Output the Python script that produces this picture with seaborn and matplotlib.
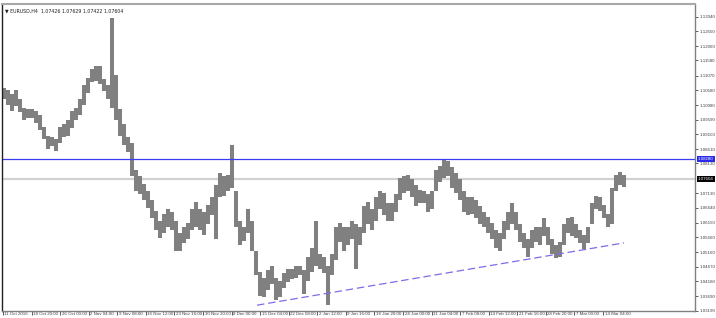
import matplotlib
matplotlib.use("Agg")
import matplotlib.pyplot as plt
import matplotlib.transforms as mtransforms
import seaborn as sns
import numpy as np
import pandas as pd

# ---------------- data ----------------
header_text = "EURUSD,H4  1.07426 1.07629 1.07422 1.07604"

bar_low = [
    1.1030, 1.1010, 1.0990, 1.1005, 1.0985, 1.0960, 1.0965,
    1.0965, 1.0950, 1.0925, 1.0895, 1.0862, 1.0870, 1.0855,
    1.0880, 1.0900, 1.0905, 1.0930, 1.0960, 1.0975, 1.1010, 1.1050,
    1.1085, 1.1090, 1.1080, 1.1055, 1.1030, 1.1000, 1.0960,
    1.0905, 1.0875, 1.0850, 1.0770, 1.0720, 1.0710, 1.0690,
    1.0665, 1.0630, 1.0590, 1.0565, 1.0580, 1.0600, 1.0590, 1.0520,
    1.0520, 1.0545, 1.0560, 1.0590, 1.0600, 1.0590, 1.0575,
    1.0610, 1.0640, 1.0560, 1.0700, 1.0705, 1.0720, 1.0730,
    1.0600, 1.0540, 1.0555, 1.0580, 1.0520, 1.0440, 1.0370,
    1.0365, 1.0390, 1.0410, 1.0355, 1.0365, 1.0395, 1.0415,
    1.0425, 1.0430, 1.0440, 1.0375, 1.0420, 1.0450, 1.0470,
    1.0460, 1.0445, 1.0340, 1.0440, 1.0490, 1.0550, 1.0520,
    1.0540, 1.0560, 1.0460, 1.0540, 1.0580, 1.0610, 1.0590,
    1.0620, 1.0660, 1.0640, 1.0620, 1.0620, 1.0650, 1.0690,
    1.0715, 1.0720, 1.0700, 1.0670, 1.0680, 1.0680, 1.0650, 1.0660,
    1.0720, 1.0750, 1.0765, 1.0770, 1.0730, 1.0715, 1.0690,
    1.0650, 1.0640, 1.0645, 1.0630, 1.0610, 1.0600, 1.0580,
    1.0560, 1.0530, 1.0520, 1.0560, 1.0590, 1.0610, 1.0590,
    1.0550, 1.0530, 1.0500, 1.0530, 1.0550, 1.0540, 1.0570,
    1.0540, 1.0510, 1.0495, 1.0500, 1.0540, 1.0580, 1.0570,
    1.0565, 1.0545, 1.0525, 1.0545, 1.0610, 1.0660, 1.0655,
    1.0630, 1.0600, 1.0610, 1.0720, 1.0740, 1.0735,
]

bar_high = [
    1.1065, 1.1060, 1.1045, 1.1058, 1.1030, 1.1000, 1.0995,
    1.0995, 1.0990, 1.0975, 1.0935, 1.0905, 1.0900, 1.0895,
    1.0935, 1.0945, 1.0960, 1.0990, 1.1000, 1.1030, 1.1075, 1.1100,
    1.1130, 1.1140, 1.1138, 1.1095, 1.1075, 1.1300, 1.1110,
    1.0995, 1.0945, 1.0900, 1.0880, 1.0790, 1.0770, 1.0745,
    1.0720, 1.0690, 1.0655, 1.0620, 1.0645, 1.0660, 1.0650, 1.0620,
    1.0580, 1.0600, 1.0615, 1.0660, 1.0685, 1.0660, 1.0650,
    1.0675, 1.0700, 1.0740, 1.0780, 1.0770, 1.0775, 1.0875,
    1.0720, 1.0620, 1.0600, 1.0660, 1.0620, 1.0520, 1.0450,
    1.0430, 1.0455, 1.0470, 1.0430, 1.0420, 1.0445, 1.0460,
    1.0460, 1.0470, 1.0470, 1.0455, 1.0500, 1.0530, 1.0620,
    1.0510, 1.0500, 1.0470, 1.0510, 1.0600, 1.0615, 1.0600,
    1.0600, 1.0620, 1.0610, 1.0600, 1.0670, 1.0685, 1.0660,
    1.0700, 1.0720, 1.0715, 1.0680, 1.0680, 1.0710, 1.0765,
    1.0770, 1.0775, 1.0760, 1.0740, 1.0725, 1.0720, 1.0710, 1.0720,
    1.0790, 1.0805, 1.0828, 1.0820, 1.0800, 1.0780, 1.0760,
    1.0720, 1.0700, 1.0700, 1.0690, 1.0670, 1.0650, 1.0635,
    1.0615, 1.0590, 1.0580, 1.0620, 1.0650, 1.0680, 1.0650,
    1.0610, 1.0580, 1.0560, 1.0590, 1.0600, 1.0600, 1.0630,
    1.0600, 1.0560, 1.0540, 1.0550, 1.0610, 1.0630, 1.0635,
    1.0610, 1.0590, 1.0575, 1.0600, 1.0680, 1.0705, 1.0700,
    1.0675, 1.0645, 1.0730, 1.0775, 1.0785, 1.0775,
]

price_ticks = [1.03190, 1.03690, 1.04180, 1.04670, 1.05160, 1.05660, 1.06150,
               1.06640, 1.07130, 1.08130, 1.08610, 1.09100, 1.09590, 1.10080,
               1.10580, 1.11070, 1.11580, 1.12060, 1.12550, 1.13040]

date_labels = ["11 Oct 2016", "18 Oct 20:00", "26 Oct 00:00", "2 Nov 04:00",
               "9 Nov 08:00", "16 Nov 12:00", "23 Nov 16:00", "30 Nov 20:00",
               "8 Dec 00:00", "15 Dec 04:00", "22 Dec 08:00", "2 Jan 12:00",
               "9 Jan 16:00", "16 Jan 20:00", "24 Jan 00:00", "31 Jan 04:00",
               "7 Feb 08:00", "14 Feb 12:00", "21 Feb 16:00", "28 Feb 20:00",
               "7 Mar 00:00", "14 Mar 04:00"]

resistance_price = 1.08280
current_price = 1.07604
trend_bar = [63.25, 155.0]
trend_price = [1.03384, 1.05470]

# ---------------- figure ----------------
sns.set_theme(style="white")
plt.rcParams['font.family'] = ['Liberation Sans', 'DejaVu Sans']

W, H = 716, 318
fig = plt.figure(figsize=(W / 100, H / 100), dpi=100)
fig.patch.set_facecolor("white")
# plot area: x 2..695 px, y 4..311 px (from top)
ax = fig.add_axes([2 / W, 7 / H, 693 / W, 307 / H])
ax.set_facecolor("white")

idx = np.arange(len(bar_low))
df = pd.DataFrame({"bar": idx, "low": bar_low, "high": bar_high})

# price bars
ax.vlines(df["bar"], df["low"], df["high"], colors="#808080", linewidth=2.9)

# horizontal lines
ax.axhline(current_price, color="#d2d2d2", linewidth=1.6, zorder=0)
ax.axhline(resistance_price, color="#3c3cf0", linewidth=0.9)

# trend line
tdf = pd.DataFrame({"bar": trend_bar, "price": trend_price})
sns.lineplot(data=tdf, x="bar", y="price", ax=ax, color="#7a6ee8",
             linewidth=0.9, linestyle=(0, (6, 3)), legend=False)

# limits
ax.set_xlim(-0.5, 172.75)
ax.set_ylim(1.0322, 1.13467)

# axes styling
for side in ["left", "right", "top", "bottom"]:
    ax.spines[side].set_visible(True)
ax.spines["left"].set_color("#202020")
ax.spines["left"].set_linewidth(1.0)
ax.spines["top"].set_color("#a8a8a8")
ax.spines["top"].set_linewidth(1.5)
ax.spines["right"].set_color("#808080")
ax.spines["right"].set_linewidth(1.0)
ax.spines["bottom"].set_color("#808080")
ax.spines["bottom"].set_linewidth(1.0)
ax.set_xlabel("")
ax.set_ylabel("")

ax.yaxis.tick_right()
ax.set_yticks(price_ticks)
ax.set_yticklabels([f"{p:.5f}" for p in price_ticks])
ax.tick_params(axis="y", which="major", direction="out", length=2.0, width=0.6,
               colors="#404040", labelsize=3.2, pad=1.0, right=True, left=False)

date_pos = -0.25 + 7.143 * np.arange(len(date_labels))
ax.set_xticks(date_pos)
ax.set_xticklabels(date_labels)
ax.tick_params(axis="x", which="major", direction="out", length=3.0, width=0.6,
               colors="#404040", labelsize=3.2, pad=-2.4, bottom=True)
offset = mtransforms.ScaledTranslation(1.5 / 100, 0, fig.dpi_scale_trans)
for lbl in ax.get_xticklabels():
    lbl.set_horizontalalignment("left")
    lbl.set_transform(lbl.get_transform() + offset)

# right-side price boxes
trans = mtransforms.blended_transform_factory(ax.transAxes, ax.transData)
ax.text(1.004, resistance_price, f"{resistance_price:.5f}", transform=trans,
        fontsize=3.2, color="white", va="center", ha="left",
        bbox=dict(boxstyle="square,pad=0.25", facecolor="#2a2ae8", edgecolor="none"))
ax.text(1.004, current_price, f"{current_price:.5f}", transform=trans,
        fontsize=3.2, color="white", va="center", ha="left",
        bbox=dict(boxstyle="square,pad=0.25", facecolor="black", edgecolor="none"))

# header
ax.text(0.004, 0.985, "\u25BC " + header_text, transform=ax.transAxes,
        fontsize=3.4, color="#202020", va="top", ha="left",
        family=['DejaVu Sans'])

fig.savefig("out.png", dpi=100, facecolor="white")
